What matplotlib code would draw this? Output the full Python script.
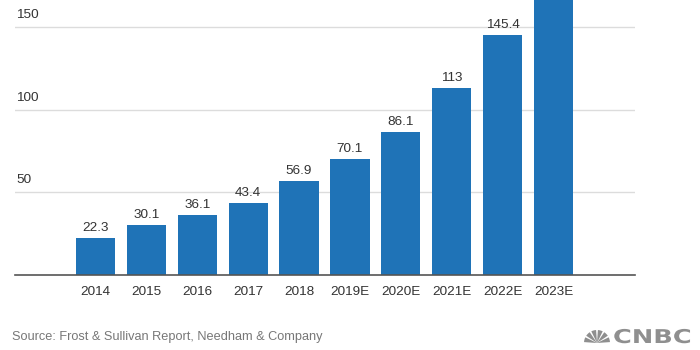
import matplotlib.pyplot as plt
from matplotlib.textpath import TextPath
from matplotlib.patches import PathPatch, Wedge
from matplotlib.font_manager import FontProperties
from matplotlib.transforms import Affine2D

years = ["2014", "2015", "2016", "2017", "2018", "2019E", "2020E", "2021E", "2022E", "2023E"]
values = [22.3, 30.1, 36.1, 43.4, 56.9, 70.1, 86.1, 113, 145.4, 187.0]
labels = ["22.3", "30.1", "36.1", "43.4", "56.9", "70.1", "86.1", "113", "145.4", ""]
yticks = [50, 100, 150]

plt.rcParams['font.family'] = ['Liberation Sans', 'DejaVu Sans']

fig = plt.figure(figsize=(7, 3.5), dpi=100)
ax = fig.add_axes([15 / 700, 1 - 274.5 / 350, 620 / 700, 274.5 / 350])

x = list(range(len(years)))
bar_color = "#1f73b7"
ax.bar(x, values, width=0.77, color=bar_color, zorder=2)

# value labels above each bar
for xi, v, lab in zip(x, values, labels):
    if lab:
        ax.text(xi, v + 2.5, lab, ha="center", va="bottom", fontsize=9.7, color="#333333")

# gridlines with labels sitting on top of them
for t in yticks:
    ax.axhline(t, color="#dcdcdc", linewidth=1, zorder=1)
    ax.text(0.002, t + 3.5, str(t), transform=ax.get_yaxis_transform(),
            ha="left", va="bottom", fontsize=9.7, color="#333333")

ax.set_xlim(-1.58, 10.6)
ax.set_ylim(0, 166.4)
ax.set_xticks(x)
ax.set_xticklabels(years, fontsize=9.7, color="#333333")
ax.tick_params(axis="x", length=0, pad=8)
ax.set_yticks([])
for side in ["top", "right", "left"]:
    ax.spines[side].set_visible(False)
ax.spines["bottom"].set_color("#555555")
ax.spines["bottom"].set_linewidth(1.2)

fig.text(12 / 700, 1 - 337 / 350, "Source: Frost & Sullivan Report, Needham & Company",
         ha="left", va="center", fontsize=9.2, color="#777777")

# CNBC logo: small peacock fan plus stretched bold wordmark
logo = fig.add_axes([575 / 700, 4 / 350, 120 / 700, 19 / 350])
logo.set_xlim(0, 120)
logo.set_ylim(0, 19)
logo.axis("off")
for i in range(6):
    a0 = 180 - i * 30
    logo.add_patch(Wedge((22, 3), 13, a0 - 26, a0 - 4, color="#8f8f8f", lw=0))
tp = TextPath((0, 0), "CNBC", size=19, prop=FontProperties(family="DejaVu Sans", weight="bold"))
tp = Affine2D().scale(1.35, 1.0).translate(38, 3).transform_path(tp)
logo.add_patch(PathPatch(tp, color="#8f8f8f", lw=0))

fig.savefig("out.png", dpi=100)
